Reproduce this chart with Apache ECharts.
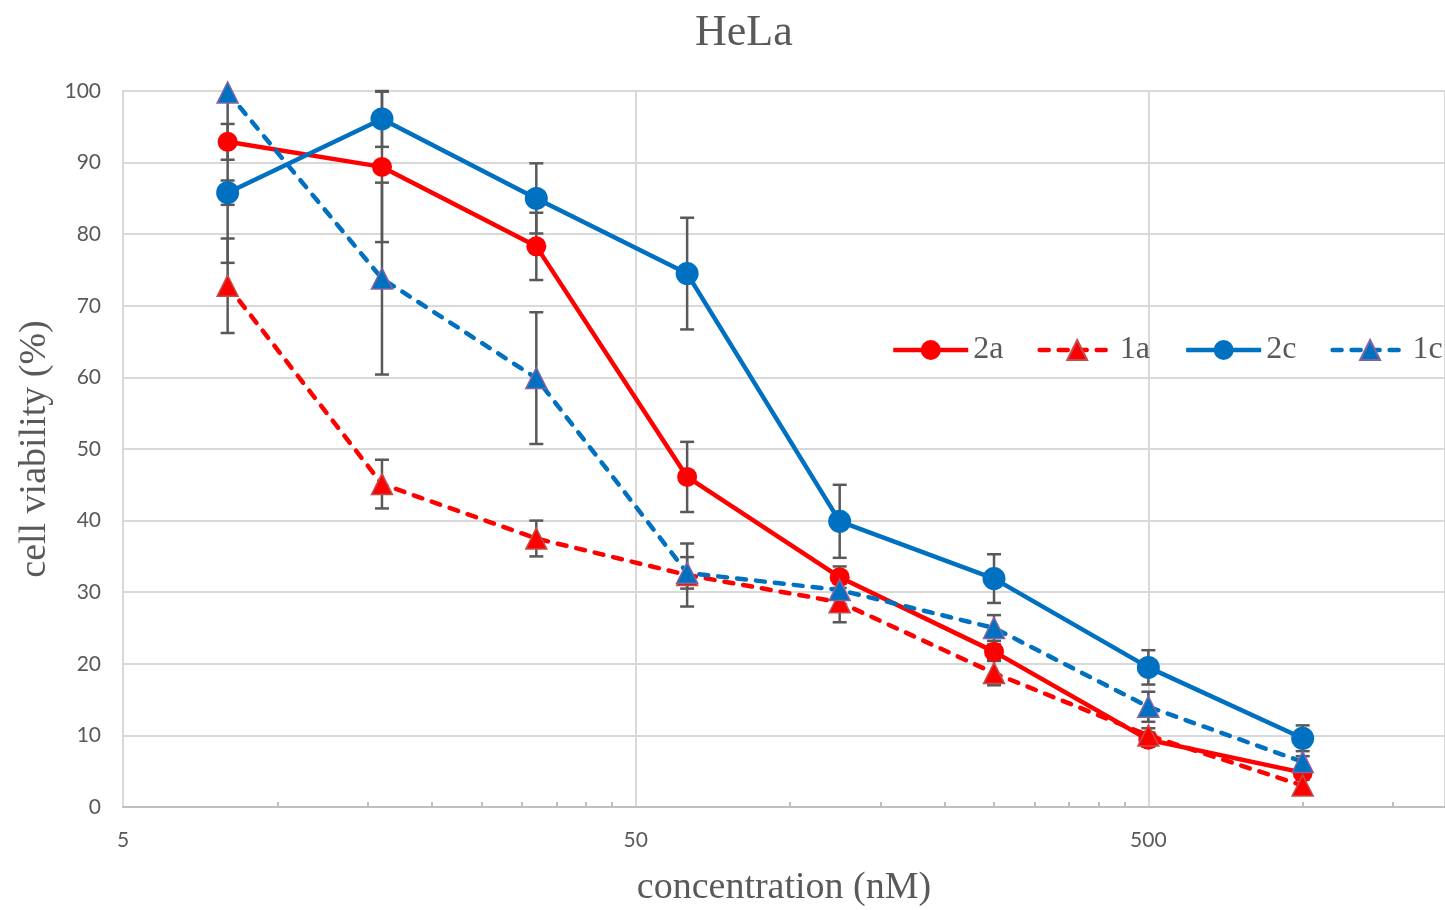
<!DOCTYPE html>
<html>
<head>
<meta charset="utf-8">
<title>HeLa</title>
<script src="https://cdn.jsdelivr.net/npm/echarts@6/dist/echarts.min.js"></script>
<style>
  html, body { margin: 0; padding: 0; background: #fff; }
  #chart { width: 1445px; height: 910px; }
</style>
</head>
<body>
<div id="chart"></div>
<script>
// concentration (nM) of each measuring point, log axis starting at 5
const conc = [8, 16, 32, 63, 125, 250, 500, 1000]
const xStart = 5
const xEnd = 1895
const xTickLabels = [5, 50, 500]
const minorSteps = [2, 3, 4, 5, 6, 7, 8, 9]

// cell viability (%) and error (+/-) per compound
const v2a = [92.9, 89.4, 78.3, 46.1, 32.1, 21.7, 9.4, 4.8]
const e2a = [2.5, 10.5, 4.7, 4.9, 1.5, 1.0, 1.0, 0.8]
const v1a = [72.8, 45.1, 37.5, 32.4, 28.6, 18.7, 10.0, 3.0]
const e1a = [6.6, 3.4, 2.5, 4.4, 2.8, 1.7, 1.0, 0.8]
const v2c = [85.8, 96.1, 85.0, 74.5, 39.9, 31.9, 19.5, 9.6]
const e2c = [1.7, 3.9, 4.9, 7.8, 5.1, 3.4, 2.4, 1.8]
const v1c = [99.8, 73.8, 59.9, 32.7, 30.3, 25.0, 14.0, 6.3]
const e1c = [23.8, 13.4, 9.2, 2.2, 1.0, 1.8, 2.1, 0.8]

const serif = '"Liberation Serif", "Times New Roman", serif'
const sans = 'Lato, "Liberation Sans", sans-serif'
const grey = '#595959'

// the x axis works in decades above 5 nM
const lx = c => Math.log10(c / xStart)
const xMax = lx(xEnd)

const minorTicks = []
xTickLabels.forEach(t => {
  minorSteps.forEach(k => {
    const v = lx(t * k)
    if (v < xMax) minorTicks.push(v)
  })
})

const pts = vals => conc.map((c, i) => [lx(c), vals[i]])

const errData = []
;[[v2a, e2a], [v1a, e1a], [v2c, e2c], [v1c, e1c]].forEach(pair => {
  conc.forEach((c, i) => {
    errData.push([lx(c), pair[0][i] - pair[1][i], pair[0][i] + pair[1][i]])
  })
})

function renderErr(params, api) {
  const x = api.value(0)
  const lo = api.value(1)
  const hi = api.value(2)
  const top = api.coord([x, Math.min(hi, 100)])
  const bot = api.coord([x, Math.max(lo, 0)])
  const w = 7
  const st = { stroke: grey, lineWidth: 2.5 }
  const kids = [
    { type: 'line', shape: { x1: top[0], y1: top[1], x2: bot[0], y2: bot[1] }, style: st },
    { type: 'line', shape: { x1: bot[0] - w, y1: bot[1], x2: bot[0] + w, y2: bot[1] }, style: st }
  ]
  if (hi <= 100) {
    kids.push({ type: 'line', shape: { x1: top[0] - w, y1: top[1], x2: top[0] + w, y2: top[1] }, style: st })
  }
  return { type: 'group', children: kids }
}

const chart = echarts.init(document.getElementById('chart'))
chart.setOption({
  animation: false,
  backgroundColor: '#fff',
  title: {
    text: 'HeLa',
    left: 690,
    top: 6,
    textStyle: { fontFamily: serif, fontSize: 44, fontWeight: 'normal', color: grey }
  },
  legend: {
    data: ['2a', '1a', '2c', '1c'],
    left: 891,
    top: 334,
    padding: 0,
    itemWidth: 75,
    itemHeight: 25,
    itemGap: 34,
    lineStyle: { width: 4.5 },
    textStyle: { fontFamily: serif, fontSize: 32, color: grey }
  },
  grid: { left: 123, right: 0, top: 91, bottom: 103, containLabel: false, outerBoundsMode: 'none' },
  xAxis: [{
    type: 'value',
    min: 0,
    max: xMax,
    interval: 1,
    name: 'concentration (nM)',
    nameLocation: 'middle',
    nameGap: 62,
    nameTextStyle: { fontFamily: serif, fontSize: 38, color: grey },
    axisLine: { lineStyle: { color: '#bfbfbf', width: 2 } },
    axisTick: { show: false },
    axisLabel: {
      margin: 23,
      fontFamily: sans,
      fontSize: 21,
      color: grey,
      formatter: v => Math.abs(v - Math.round(v)) < 1e-6 ? String(xStart * Math.pow(10, Math.round(v))) : ''
    },
    splitLine: { lineStyle: { color: '#d9d9d9', width: 2 } }
  }, {
    type: 'value',
    min: 0,
    max: xMax,
    position: 'bottom',
    axisLine: { show: false },
    axisLabel: { show: false },
    splitLine: { show: false },
    axisTick: { show: true, inside: true, length: 5, customValues: minorTicks, lineStyle: { color: '#bfbfbf', width: 2 } }
  }],
  yAxis: {
    type: 'value',
    min: 0,
    max: 100,
    interval: 10,
    name: 'cell viability (%)',
    nameLocation: 'middle',
    nameGap: 67,
    nameTextStyle: { fontFamily: serif, fontSize: 38, color: grey },
    axisLine: { show: true, lineStyle: { color: '#d9d9d9', width: 2 } },
    axisTick: { show: false },
    axisLabel: { margin: 22, fontFamily: sans, fontSize: 21, color: grey },
    splitLine: { lineStyle: { color: '#d9d9d9', width: 2 } }
  },
  series: [{
    type: 'custom',
    renderItem: renderErr,
    data: errData,
    z: 1,
    silent: true
  }, {
    name: '2a',
    type: 'line',
    data: pts(v2a),
    symbol: 'circle',
    symbolSize: 20,
    lineStyle: { color: '#ff0000', width: 4.5, join: 'round' },
    itemStyle: { color: '#ff0000' }
  }, {
    name: '1a',
    type: 'line',
    data: pts(v1a),
    symbol: 'triangle',
    symbolSize: 21,
    lineStyle: { color: '#ff0000', width: 4.5, type: [9, 10], cap: 'round', join: 'round' },
    itemStyle: { color: '#ff0000', borderColor: '#c0504d', borderWidth: 1.5 }
  }, {
    name: '2c',
    type: 'line',
    data: pts(v2c),
    symbol: 'circle',
    symbolSize: 23,
    lineStyle: { color: '#0070c0', width: 4.5, join: 'round' },
    itemStyle: { color: '#0070c0' }
  }, {
    name: '1c',
    type: 'line',
    data: pts(v1c),
    symbol: 'triangle',
    symbolSize: 21,
    lineStyle: { color: '#0070c0', width: 4.5, type: [9, 10], cap: 'round', join: 'round' },
    itemStyle: { color: '#0070c0', borderColor: '#8064a2', borderWidth: 1.5 }
  }]
})
</script>
</body>
</html>
